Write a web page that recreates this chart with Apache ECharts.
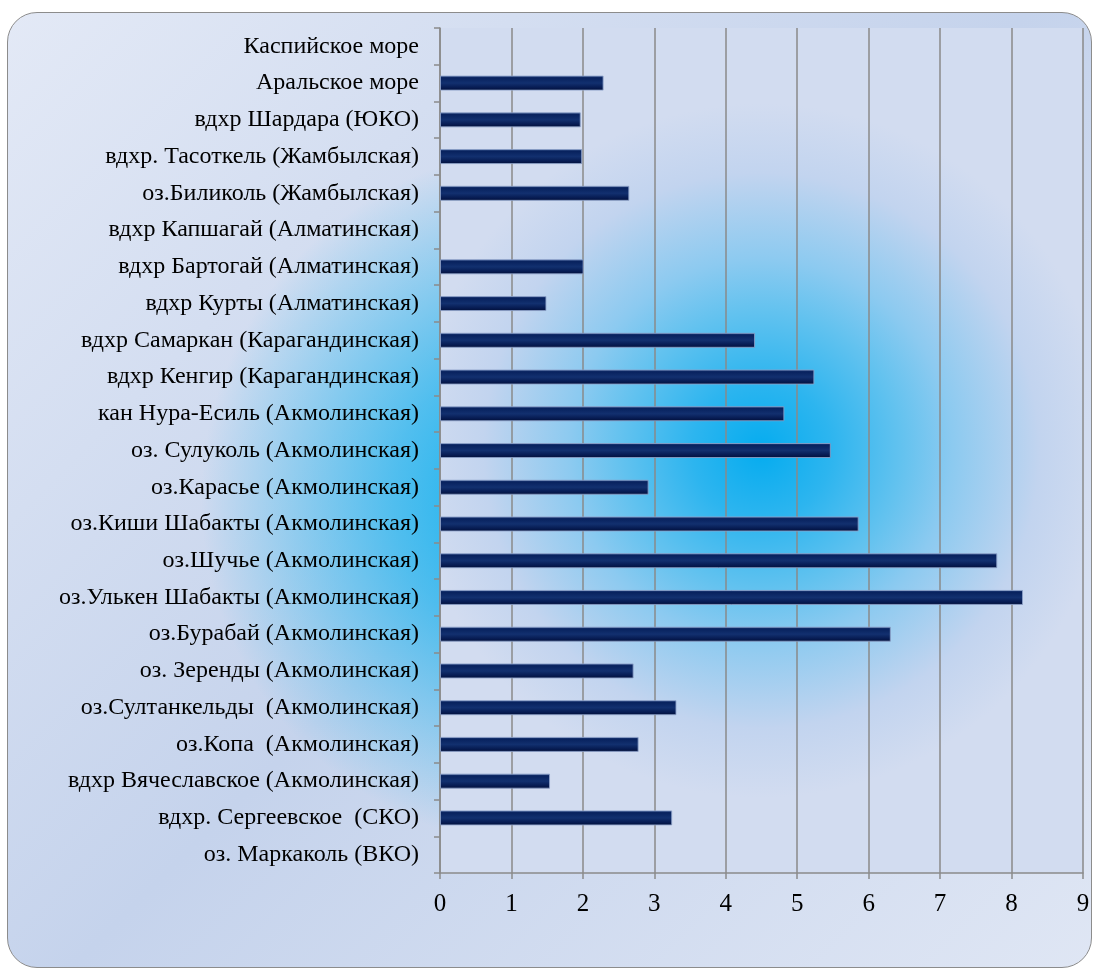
<!DOCTYPE html>
<html>
<head>
<meta charset="utf-8">
<script src="https://cdn.jsdelivr.net/npm/echarts@6/dist/echarts.min.js"></script>
<style>
  html, body { margin: 0; padding: 0; background: #ffffff; }
  #wrap { position: relative; width: 1094px; height: 970px; overflow: hidden; background: #ffffff; }
  #box {
    position: absolute; left: 7px; top: 12px; width: 1083px; height: 954px;
    border: 1.5px solid #8c8c8c; border-radius: 30px;
    background:
      radial-gradient(circle 350px at 543px 485px, rgba(0,174,239,1) 0%, rgba(0,174,239,0.6) 45%, rgba(0,174,239,0) 100%),
      linear-gradient(135deg, #e3e9f6 0%, #c5d3ec 50%, #dfe6f4 100%);
  }
  #chart { position: absolute; left: 0; top: 0; width: 1094px; height: 970px; }
</style>
</head>
<body>
<div id="wrap">
  <div id="box"></div>
  <div id="chart"></div>
</div>
<script>
// Categories listed bottom to top (as drawn on the category axis)
var categories = [
  'оз. Маркаколь (ВКО)',
  'вдхр. Сергеевское  (СКО)',
  'вдхр Вячеславское (Акмолинская)',
  'оз.Копа  (Акмолинская)',
  'оз.Султанкельды  (Акмолинская)',
  'оз. Зеренды (Акмолинская)',
  'оз.Бурабай (Акмолинская)',
  'оз.Улькен Шабакты (Акмолинская)',
  'оз.Шучье (Акмолинская)',
  'оз.Киши Шабакты (Акмолинская)',
  'оз.Карасье (Акмолинская)',
  'оз. Сулуколь (Акмолинская)',
  'кан Нура-Есиль (Акмолинская)',
  'вдхр Кенгир (Карагандинская)',
  'вдхр Самаркан (Карагандинская)',
  'вдхр Курты (Алматинская)',
  'вдхр Бартогай (Алматинская)',
  'вдхр Капшагай (Алматинская)',
  'оз.Биликоль (Жамбылская)',
  'вдхр. Тасоткель (Жамбылская)',
  'вдхр Шардара (ЮКО)',
  'Аральское море',
  'Каспийское море'
];
var values = [
  null, 3.25, 1.54, 2.78, 3.31, 2.71, 6.31, 8.16, 7.80, 5.86, 2.92, 5.47,
  4.82, 5.24, 4.41, 1.49, 2.01, null, 2.65, 1.99, 1.97, 2.29, null
];
var xMin = 0, xMax = 9, xStep = 1;

var chart = echarts.init(document.getElementById('chart'), null, { renderer: 'canvas' });

var plotFill = new echarts.graphic.RadialGradient(0.5, 0.5, 0.54, [
  { offset: 0, color: '#05acef' },
  { offset: 0.2, color: '#2db5ef' },
  { offset: 0.4, color: '#62c2ef' },
  { offset: 0.55, color: '#8ccaf0' },
  { offset: 0.8, color: '#c2d4ef' },
  { offset: 1, color: '#d2dcf0' }
]);

var barFill = new echarts.graphic.LinearGradient(0, 0, 0, 1, [
  { offset: 0, color: '#2c4a86' },
  { offset: 0.15, color: '#08225e' },
  { offset: 0.5, color: '#12306f' },
  { offset: 0.82, color: '#061a50' },
  { offset: 1, color: '#031036' }
]);

chart.setOption({
  backgroundColor: 'transparent',
  animation: false,
  grid: {
    left: 440, right: 11, top: 28, bottom: 97,
    show: true, backgroundColor: plotFill, borderWidth: 0
  },
  xAxis: {
    type: 'value', min: xMin, max: xMax, interval: xStep,
    axisLine: { show: true, lineStyle: { color: '#8a8a8a', width: 1.5 } },
    axisTick: { show: true, length: 6, lineStyle: { color: '#8a8a8a', width: 1.5 } },
    splitLine: { show: true, lineStyle: { color: '#8a8a8a', width: 1.5 } },
    axisLabel: { color: '#000', fontFamily: 'Liberation Serif', fontSize: 25, margin: 19 }
  },
  yAxis: {
    type: 'category', data: categories,
    axisLine: { show: true, lineStyle: { color: '#8a8a8a', width: 1.5 } },
    axisTick: { show: true, length: 6, lineStyle: { color: '#8a8a8a', width: 1.5 } },
    splitLine: { show: false },
    axisLabel: { color: '#000', fontFamily: 'Liberation Serif', fontSize: 24, margin: 21 }
  },
  series: [{
    type: 'bar',
    data: values,
    barWidth: 15,
    itemStyle: { color: barFill, borderColor: 'rgba(140,160,200,0.85)', borderWidth: 1 }
  }]
});
</script>
</body>
</html>
